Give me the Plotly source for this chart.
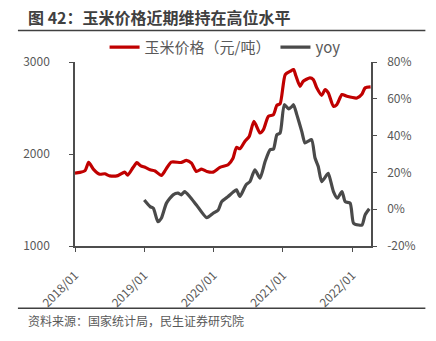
import plotly.graph_objects as go

price_dates = ["2018-01-01","2018-01-27","2018-02-23","2018-03-14","2018-04-10","2018-05-11","2018-06-07",
"2018-07-03","2018-08-15","2018-09-20","2018-10-06","2018-11-02","2018-11-23","2018-12-14","2019-01-05",
"2019-02-01","2019-02-27","2019-04-01","2019-04-24","2019-05-23","2019-07-15","2019-08-11","2019-09-07",
"2019-10-03","2019-10-30","2019-11-27","2019-12-30","2020-02-04","2020-03-18","2020-04-12","2020-05-01",
"2020-05-19","2020-06-14","2020-07-07","2020-08-01","2020-09-02","2020-09-20","2020-10-16","2020-11-12",
"2020-11-30","2020-12-17","2021-01-13","2021-02-09","2021-02-26","2021-03-10","2021-04-01","2021-04-18",
"2021-05-23","2021-06-10","2021-06-28","2021-07-24","2021-08-11","2021-08-28","2021-09-24","2021-10-12",
"2021-11-08","2021-12-04","2022-01-26","2022-02-22","2022-03-10","2022-04-08"]
price_values = [1793,1800,1820,1908,1830,1780,1785,1762,1765,1803,1770,1850,1906,1870,1855,
1828,1815,1766,1830,1912,1908,1930,1900,1810,1836,1810,1803,1854,1883,1950,2072,
2057,2137,2191,2355,2228,2264,2409,2428,2530,2545,2864,2900,2918,2850,2736,2791,
2827,2809,2719,2638,2700,2664,2518,2537,2646,2627,2609,2653,2719,2730]

yoy_dates = ["2019-01-01","2019-02-01","2019-02-18","2019-03-14","2019-04-01","2019-04-28","2019-06-02",
"2019-06-28","2019-07-15","2019-08-02","2019-08-28","2019-10-03","2019-11-26","2019-12-30","2020-01-26",
"2020-02-13","2020-03-18","2020-04-14","2020-05-01","2020-05-19","2020-06-20","2020-07-11","2020-08-06",
"2020-09-02","2020-09-29","2020-10-25","2020-11-12","2020-11-30","2020-12-17","2021-01-08","2021-01-31",
"2021-02-18","2021-02-26","2021-03-15","2021-04-10","2021-04-27","2021-05-14","2021-06-01","2021-06-19",
"2021-07-06","2021-07-24","2021-08-20","2021-08-28","2021-09-24","2021-10-15","2021-11-08","2021-11-25",
"2021-12-21","2022-01-08","2022-02-04","2022-02-22","2022-03-10","2022-04-01"]
yoy_values = [5.0,1.4,0.5,-6.8,-4.9,3.3,7.8,8.7,7.8,9.6,6.9,2.3,-4.6,-2.2,-0.4,
4.1,6.9,9.3,10.5,6.9,13.2,15.0,21.4,16.9,25.9,32.3,32.7,40.5,41.4,56.8,54.5,
55.9,56.8,51.4,42.3,36.0,37.0,37.8,27.8,23.2,15.0,18.7,19.5,9.6,6.0,9.6,4.1,
3.3,-7.6,-8.6,-8.6,-3.1,0.2]

x_ticks = ["2018-01-01","2019-01-01","2020-01-01","2021-01-01","2022-01-01"]
x_ticklabels = ["2018/01","2019/01","2020/01","2021/01","2022/01"]
left_ticks = [1000,2000,3000]
right_ticks = [-20,0,20,40,60,80]

FONT = "Noto Sans CJK SC"
TXT = "#595959"
AX = "#4d4d4d"

fig = go.Figure()
fig.add_trace(go.Scatter(x=price_dates, y=price_values, mode="lines", name="玉米价格（元/吨）",
                         line=dict(color="#C00000", width=3.2, shape="spline", smoothing=0.6)))
fig.add_trace(go.Scatter(x=yoy_dates, y=yoy_values, mode="lines", name="yoy", yaxis="y2",
                         line=dict(color="#4a4a4a", width=3.2, shape="spline", smoothing=0.6)))

fig.update_layout(
    width=436, height=341,
    margin=dict(l=75, r=65, t=62, b=95),
    paper_bgcolor="white", plot_bgcolor="white",
    font=dict(family=FONT, size=12, color=TXT),
    showlegend=True,
    legend=dict(orientation="h", x=0.507, xanchor="center", y=1.08, yanchor="middle",
                font=dict(size=15, color=TXT), bgcolor="rgba(0,0,0,0)", itemwidth=30),
    xaxis=dict(type="date", range=["2018-01-01", "2022-04-10"], tickvals=x_ticks, ticktext=x_ticklabels,
               tickangle=-45, ticks="outside", ticklen=4, tickcolor=AX, showline=True, linecolor=AX,
               linewidth=1.5, showgrid=False, zeroline=False, tickfont=dict(size=12, color=TXT),
               ticklabelstandoff=12),
    yaxis=dict(range=[1000, 3000], tickvals=left_ticks, ticks="outside", ticklen=4, tickcolor=AX,
               showline=True, linecolor=AX, linewidth=1.5, showgrid=False, zeroline=False,
               tickfont=dict(size=12, color=TXT), ticklabelstandoff=17),
    yaxis2=dict(range=[-20, 80], tickvals=right_ticks, ticktext=[f"{v}%" for v in right_ticks],
                overlaying="y", side="right", ticks="outside", ticklen=4, tickcolor=AX,
                showline=True, linecolor=AX, linewidth=1.5, showgrid=False, zeroline=False,
                tickfont=dict(size=12, color=TXT), ticklabelstandoff=8),
)

fig.add_annotation(text="<b>图 42：玉米价格近期维持在高位水平</b>", xref="paper", yref="paper",
                   x=-0.165, y=1.2425, xanchor="left", yanchor="middle", showarrow=False,
                   font=dict(size=16, color="#404040", family=FONT))
fig.add_annotation(text="资料来源：国家统计局，民生证券研究院", xref="paper", yref="paper",
                   x=-0.165, y=-0.403, xanchor="left", yanchor="middle", showarrow=False,
                   font=dict(size=12, color=TXT, family=FONT))
fig.add_shape(type="line", xref="paper", yref="paper", x0=-0.1928, x1=1.1837, y0=1.1717, y1=1.1717,
              line=dict(color="#404040", width=1.5))
fig.add_shape(type="line", xref="paper", yref="paper", x0=-0.1928, x1=1.1837, y0=-0.3379, y1=-0.3379,
              line=dict(color="#404040", width=1.5))

fig.write_html("out.html")
